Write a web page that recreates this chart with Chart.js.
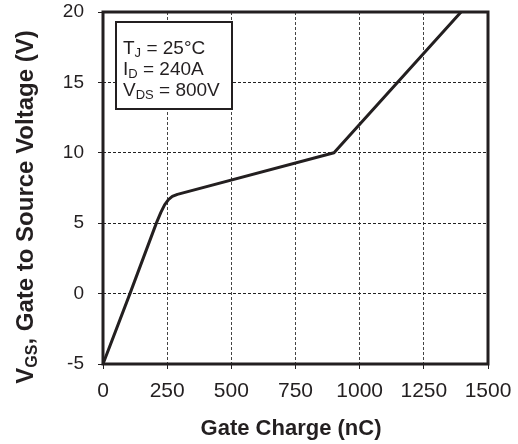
<!DOCTYPE html>
<html>
<head>
<meta charset="utf-8">
<script src="https://cdn.jsdelivr.net/npm/chart.js@4"></script>
<style>
  html, body { margin: 0; padding: 0; background: #fff; }
  #wrap { width: 518px; height: 444px; position: relative; }
</style>
</head>
<body>
<div id="wrap"><canvas id="c" width="518" height="444"></canvas></div>
<script>
// Data
const gateCharge = [0, 105, 209, 225, 240, 255, 270, 290, 900, 1395];   // nC
const vgs        = [-5, 0, 5.06, 5.75, 6.3, 6.68, 6.9, 7.05, 10, 20];    // V
const xTicks = [0, 250, 500, 750, 1000, 1250, 1500];
const yTicks = [-5, 0, 5, 10, 15, 20];
const xTitle = "Gate Charge (nC)";
const yTitleParts = [["V", false], ["GS", true], [", Gate to Source Voltage (V)", false]];
const legendLines = [
  [["T", false], ["J", true], [" = 25°C", false]],
  [["I", false], ["D", true], [" = 240A", false]],
  [["V", false], ["DS", true], [" = 800V", false]]
];

const INK = '#231f20';
const FONT = '"Liberation Sans", Arial, sans-serif';

function drawParts(ctx, parts, x, y, size, subSize, bold, subDrop) {
  let cx = x;
  for (const [t, sub] of parts) {
    ctx.font = (bold ? 'bold ' : '') + (sub ? subSize : size) + 'px ' + FONT;
    ctx.fillText(t, cx, sub ? y + subDrop : y);
    cx += ctx.measureText(t).width;
  }
  return cx - x;
}
function measureParts(ctx, parts, size, subSize, bold) {
  let w = 0;
  for (const [t, sub] of parts) {
    ctx.font = (bold ? 'bold ' : '') + (sub ? subSize : size) + 'px ' + FONT;
    w += ctx.measureText(t).width;
  }
  return w;
}
function zeroPad(s) { s.paddingTop = 0; s.paddingBottom = 0; s.paddingLeft = 0; s.paddingRight = 0; }

const decorPlugin = {
  id: 'decor',
  beforeDatasetsDraw(chart) {
    const {ctx, chartArea: a} = chart;
    ctx.save();
    const bx = a.left + 13, by = a.top + 10, bw = 116, bh = 87;
    ctx.fillStyle = '#fff';
    ctx.fillRect(bx, by, bw, bh);
    ctx.lineWidth = 2;
    ctx.strokeStyle = INK;
    ctx.strokeRect(bx, by, bw, bh);
    ctx.fillStyle = INK;
    ctx.textBaseline = 'alphabetic';
    ctx.textAlign = 'left';
    legendLines.forEach((ln, i) => {
      drawParts(ctx, ln, bx + 7, by + 32 + i * 21, 19, 13, false, 3);
    });
    ctx.restore();
  },
  afterDraw(chart) {
    const {ctx, chartArea: a} = chart;
    ctx.save();
    ctx.lineWidth = 3;
    ctx.strokeStyle = INK;
    ctx.strokeRect(a.left, a.top, a.right - a.left, a.bottom - a.top);
    ctx.fillStyle = INK;
    ctx.textAlign = 'center';
    ctx.textBaseline = 'alphabetic';
    ctx.font = 'bold 22px ' + FONT;
    ctx.fillText(xTitle, 291, 435);
    ctx.textAlign = 'left';
    const w = measureParts(ctx, yTitleParts, 24, 16, true);
    ctx.translate(33, 207);
    ctx.rotate(-Math.PI / 2);
    drawParts(ctx, yTitleParts, -w / 2, 0, 24, 16, true, 4);
    ctx.restore();
  }
};

new Chart(document.getElementById('c'), {
  type: 'scatter',
  data: {
    datasets: [{
      data: gateCharge.map((x, i) => ({x, y: vgs[i]})),
      showLine: true,
      borderColor: INK,
      borderWidth: 3,
      borderJoinStyle: 'round',
      pointRadius: 0,
      tension: 0,
      fill: false,
      clip: 2
    }]
  },
  options: {
    responsive: false,
    animation: false,
    devicePixelRatio: 1,
    layout: { padding: { left: 0, right: 30, top: 12, bottom: 0 } },
    plugins: { legend: { display: false }, tooltip: { enabled: false } },
    scales: {
      x: {
        type: 'linear',
        min: 0, max: 1500,
        afterBuildTicks: s => { s.ticks = xTicks.map(v => ({value: v})); },
        afterFit: s => { s.height = 80; zeroPad(s); },
        ticks: { color: INK, font: { family: FONT, size: 21 }, padding: 10, maxRotation: 0,
                 callback: v => String(v) },
        grid: { color: '#444', lineWidth: 1, tickLength: 5, tickColor: INK, tickWidth: 1, tickBorderDash: [] },
        border: { display: false, dash: [3, 2] }
      },
      y: {
        type: 'linear',
        min: -5, max: 20,
        afterBuildTicks: s => { s.ticks = yTicks.map(v => ({value: v})); },
        afterFit: s => { s.width = 103; zeroPad(s); },
        ticks: { color: INK, font: { family: FONT, size: 19 }, padding: 14, callback: v => String(v) },
        grid: { color: '#222', lineWidth: 1, tickLength: 5, tickColor: INK, tickWidth: 1, tickBorderDash: [] },
        border: { display: false, dash: [3, 2] }
      }
    }
  },
  plugins: [decorPlugin]
});
</script>
</body>
</html>
